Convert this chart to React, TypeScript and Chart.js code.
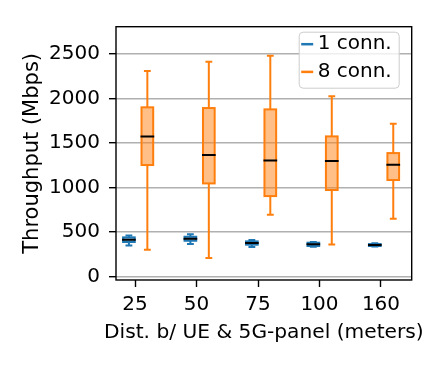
import React, { useEffect, useRef } from 'react';
import { Chart, registerables } from 'chart.js';

Chart.register(...registerables);

// ---- data ----
const categories = ['25', '50', '75', '100', '160'];
const seriesNames = ['1 conn.', '8 conn.'];
const yTicks = [0, 500, 1000, 1500, 2000, 2500];
const xTitle = 'Dist. b/ UE & 5G-panel (meters)';
const yTitle = 'Throughput (Mbps)';

// 1 connection: whisker low, Q1, median, Q3, whisker high (Mbps)
const oneConnLow = [351, 366, 333, 336, 340];
const oneConnQ1 = [389, 403, 359, 344, 344];
const oneConnMedian = [415, 426, 377, 363, 355];
const oneConnQ3 = [441, 448, 396, 381, 366];
const oneConnHigh = [463, 475, 411, 389, 374];

// 8 connections
const eightConnLow = [303, 209, 695, 362, 650];
const eightConnQ1 = [1252, 1046, 904, 972, 1084];
const eightConnMedian = [1573, 1364, 1304, 1297, 1256];
const eightConnQ3 = [1899, 1891, 1876, 1573, 1386];
const eightConnHigh = [2306, 2410, 2478, 2022, 1715];

// ---- style ----
const BLUE = '#1f77b4';
const BLUE_FILL = 'rgba(31,119,180,0.5)';
const ORANGE = '#ff7f0e';
const ORANGE_FILL = 'rgba(255,127,14,0.5)';
const FONT = 'DejaVu Sans';
const BOX_W = 0.19;
const OFFSETS = [-0.1, 0.2];

const groups = [
  { color: BLUE, fill: BLUE_FILL, low: oneConnLow, q1: oneConnQ1, med: oneConnMedian, q3: oneConnQ3, high: oneConnHigh },
  { color: ORANGE, fill: ORANGE_FILL, low: eightConnLow, q1: eightConnQ1, med: eightConnMedian, q3: eightConnQ3, high: eightConnHigh },
];

function line(ctx: CanvasRenderingContext2D, x1: number, y1: number, x2: number, y2: number) {
  ctx.beginPath();
  ctx.moveTo(x1, y1);
  ctx.lineTo(x2, y2);
  ctx.stroke();
}

const boxPlugin = {
  id: 'boxes',
  afterDatasetsDraw(chart: any) {
    const { ctx, chartArea, scales } = chart;
    const x = scales.x;
    const y = scales.y;
    ctx.save();
    ctx.beginPath();
    ctx.rect(chartArea.left, chartArea.top, chartArea.right - chartArea.left, chartArea.bottom - chartArea.top);
    ctx.clip();
    const half = (x.getPixelForValue(BOX_W) - x.getPixelForValue(0)) / 2;
    const cap = half / 2 + 0.5;
    groups.forEach((g, gi) => {
      categories.forEach((_, i) => {
        const cx = x.getPixelForValue(i + 1 + OFFSETS[gi]);
        const yl = y.getPixelForValue(g.low[i]);
        const y1 = y.getPixelForValue(g.q1[i]);
        const ym = y.getPixelForValue(g.med[i]);
        const y3 = y.getPixelForValue(g.q3[i]);
        const yh = y.getPixelForValue(g.high[i]);
        ctx.strokeStyle = g.color;
        ctx.lineWidth = 2;
        line(ctx, cx, y1, cx, yl);
        line(ctx, cx, y3, cx, yh);
        line(ctx, cx - cap, yl, cx + cap, yl);
        line(ctx, cx - cap, yh, cx + cap, yh);
        ctx.fillStyle = g.fill;
        ctx.fillRect(cx - half, y3, 2 * half, y1 - y3);
        ctx.strokeRect(cx - half, y3, 2 * half, y1 - y3);
        ctx.strokeStyle = '#000';
        line(ctx, cx - half - 1, ym, cx + half + 1, ym);
      });
    });
    ctx.restore();
  },
  afterDraw(chart: any) {
    const { ctx, chartArea } = chart;
    ctx.save();
    // frame
    ctx.strokeStyle = '#000';
    ctx.lineWidth = 1.4;
    ctx.strokeRect(chartArea.left, chartArea.top, chartArea.right - chartArea.left, chartArea.bottom - chartArea.top);
    // x-axis title (drawn unconstrained: it is wider than the plot)
    ctx.fillStyle = '#000';
    ctx.font = `20.2px "${FONT}"`;
    ctx.textAlign = 'center';
    ctx.textBaseline = 'alphabetic';
    ctx.fillText(xTitle, (chartArea.left + chartArea.right) / 2, chartArea.bottom + 57.7);
    // legend
    const bw = 100;
    const bh = 56;
    const bx = chartArea.right - 12.5 - bw;
    const by = chartArea.top + 5.5;
    ctx.beginPath();
    (ctx as any).roundRect(bx, by, bw, bh, 4);
    ctx.fillStyle = 'rgba(255,255,255,0.8)';
    ctx.fill();
    ctx.strokeStyle = '#cccccc';
    ctx.lineWidth = 1;
    ctx.stroke();
    ctx.font = `20px "${FONT}"`;
    ctx.textBaseline = 'middle';
    ctx.textAlign = 'left';
    seriesNames.forEach((name, i) => {
      const ry = by + 12 + i * 27.7;
      ctx.strokeStyle = groups[i].color;
      ctx.lineWidth = 2.5;
      line(ctx, bx + 2, ry, bx + 14, ry);
      ctx.fillStyle = '#000';
      ctx.fillText(name, bx + 18.5, ry);
    });
    ctx.restore();
  },
};

export default function App() {
  const canvasRef = useRef<HTMLCanvasElement | null>(null);

  useEffect(() => {
    const canvas = canvasRef.current;
    if (!canvas) return;
    const chart = new Chart(canvas, {
      type: 'line',
      data: {
        datasets: seriesNames.map((name, gi) => ({
          label: name,
          data: categories.map((_, i) => ({ x: i + 1 + OFFSETS[gi], y: groups[gi].med[i] })),
          borderColor: groups[gi].color,
          backgroundColor: groups[gi].color,
          showLine: false,
          pointRadius: 0,
        })),
      },
      options: {
        responsive: false,
        animation: false,
        devicePixelRatio: 1,
        layout: { padding: { left: 0, top: 26.7, right: 27.3, bottom: 0 } },
        plugins: { legend: { display: false }, tooltip: { enabled: false } },
        scales: {
          x: {
            type: 'linear',
            min: 0.69,
            max: 5.5,
            afterBuildTicks: (scale: any) => {
              scale.ticks = categories.map((_, i) => ({ value: i + 1 }));
            },
            afterFit: (scale: any) => {
              scale.height = 87;
            },
            grid: { drawOnChartArea: false, drawTicks: true, tickLength: 7, tickColor: '#000', tickWidth: 1.4 },
            border: { display: false },
            ticks: {
              color: '#000',
              font: { family: FONT, size: 20 },
              padding: 6,
              maxRotation: 0,
              autoSkip: false,
              callback: (v: any) => categories[Math.round(Number(v)) - 1] ?? '',
            },
            title: { display: false },
          },
          y: {
            type: 'linear',
            min: -37,
            max: 2803,
            afterBuildTicks: (scale: any) => {
              scale.ticks = yTicks.map((v) => ({ value: v }));
            },
            afterFit: (scale: any) => {
              scale.width = 116;
            },
            grid: { color: '#b0b0b0', lineWidth: 1.4, drawTicks: true, tickLength: 7, tickColor: '#000', tickWidth: 1.4 },
            border: { display: false },
            ticks: {
              color: '#000',
              font: { family: FONT, size: 20 },
              padding: 9,
              autoSkip: false,
              callback: (v: any) => String(v),
            },
            title: {
              display: true,
              text: yTitle,
              color: '#000',
              font: { family: FONT, size: 21 },
              padding: { top: 19.9, bottom: 0 },
            },
          },
        },
      },
      plugins: [boxPlugin],
    });
    return () => chart.destroy();
  }, []);

  return (
    <div style={{ position: 'fixed', left: 0, top: 0, width: 439, height: 367, background: '#fff' }}>
      <canvas ref={canvasRef} width={439} height={367} style={{ width: 439, height: 367, display: 'block' }} />
    </div>
  );
}
